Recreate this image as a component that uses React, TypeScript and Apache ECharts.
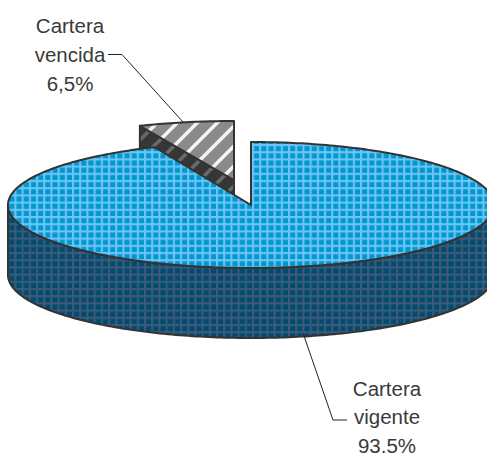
import React, { useEffect, useRef } from "react";
import * as echarts from "echarts";

const sliceNames = ["Cartera vencida", "Cartera vigente"];
const sliceValues = [6.5, 93.5];
const labelLinesVencida = ["Cartera", "vencida", "6,5%"];
const labelLinesVigente = ["Cartera", "vigente", "93.5%"];

const W = 487;
const H = 455;
const CX = 251;
const CY = 205;
const RX = 243;
const RY = 63;
const DEPTH = 70;
const EXPLODE = { cx: 234, cy: 180, rx: 237, ry: 59 };
const OUTLINE = "#333333";

function gridPattern(base: string, line: string) {
  const P = 7.2;
  const S = 6;
  const c = document.createElement("canvas");
  c.width = c.height = Math.round(P * S);
  const g = c.getContext("2d")!;
  g.fillStyle = base;
  g.fillRect(0, 0, c.width, c.height);
  g.fillStyle = line;
  g.fillRect(0, 0, 13, c.height);
  g.fillRect(0, 0, c.width, 13);
  return { image: c, repeat: "repeat", imageWidth: P, imageHeight: P, x: 0, y: 0 };
}

function hatchPattern(base: string, stripe: string) {
  const P = 20;
  const S = 4;
  const size = P * S;
  const c = document.createElement("canvas");
  c.width = c.height = size;
  const g = c.getContext("2d")!;
  g.fillStyle = base;
  g.fillRect(0, 0, size, size);
  g.strokeStyle = stripe;
  g.lineWidth = 14;
  for (const o of [-size, 0, size]) {
    g.beginPath();
    g.moveTo(o - 10, size + 10);
    g.lineTo(o + size + 10, -10);
    g.stroke();
  }
  return { image: c, repeat: "repeat", imageWidth: P, imageHeight: P, x: 0, y: 0 };
}

function arc(cx: number, cy: number, rx: number, ry: number, from: number, to: number) {
  const pts: number[][] = [];
  const n = Math.max(2, Math.ceil(Math.abs(to - from)));
  for (let i = 0; i <= n; i++) {
    const t = ((from + ((to - from) * i) / n) * Math.PI) / 180;
    pts.push([cx + rx * Math.sin(t), cy - ry * Math.cos(t)]);
  }
  return pts;
}

export default function App() {
  const ref = useRef<HTMLDivElement>(null);
  useEffect(() => {
    document.body.style.margin = "0";
    const chart = echarts.init(ref.current!, undefined, { renderer: "svg" });
    const total = sliceValues[0] + sliceValues[1];
    const topFill = gridPattern("#0099CC", "#70C4F8");
    const wallFill = gridPattern("#004C70", "#3F5A78");
    const hatchTop = hatchPattern("#8A8A8A", "#F4F4F4");
    const hatchWall = hatchPattern("#363636", "#6A6A6A");

    const renderItem = (params: any, api: any) => {
      const share = (api.value(0) / total) * 360;
      const line = { stroke: OUTLINE, lineWidth: 2, lineJoin: "round" };
      if (params.dataIndex === 0) {
        const { cx, cy, rx, ry } = EXPLODE;
        const a = arc(cx, cy, rx, ry, -share, 0);
        const wall = [[cx, cy], a[0], [a[0][0], a[0][1] + DEPTH], [cx, cy + DEPTH]];
        return {
          type: "group",
          children: [
            { type: "polygon", shape: { points: wall }, style: { fill: hatchWall, ...line } },
            { type: "polygon", shape: { points: [[cx, cy], ...a] }, style: { fill: hatchTop, ...line } },
          ],
        };
      }
      const top = arc(CX, CY, RX, RY, 0, share);
      const front = arc(CX, CY, RX, RY, 90, 270);
      const back = arc(CX, CY + DEPTH, RX, RY, 270, 90);
      return {
        type: "group",
        children: [
          { type: "polygon", shape: { points: [...front, ...back] }, style: { fill: wallFill, ...line } },
          { type: "polygon", shape: { points: [[CX, CY], ...top] }, style: { fill: topFill, ...line } },
        ],
      };
    };

    const textStyle = (text: string, x: number, y: number) => ({
      type: "text",
      x,
      y,
      z: 10,
      style: {
        text,
        fill: "#3a3a3a",
        font: '20.5px "Liberation Sans", Arial, sans-serif',
        textAlign: "center",
        textVerticalAlign: "middle",
      },
    });
    const LH = 28.5;

    chart.setOption({
      animation: false,
      backgroundColor: "#ffffff",
      series: [
        {
          type: "custom",
          coordinateSystem: "none",
          silent: true,
          clip: false,
          renderItem,
          data: sliceValues.map((value, i) => ({ name: sliceNames[i], value: [value] })),
        },
      ],
      graphic: [
        { type: "polyline", z: 9, shape: { points: [[108, 54.5], [122, 54.5], [183, 122]] }, style: { stroke: "#222", lineWidth: 1, fill: "none" } },
        { type: "polyline", z: 9, shape: { points: [[303, 333], [333, 420], [347, 420]] }, style: { stroke: "#222", lineWidth: 1, fill: "none" } },
        ...labelLinesVencida.map((t, i) => textStyle(t, 70, 25 + i * 29.3)),
        ...labelLinesVigente.map((t, i) => textStyle(t, 387, 388 + i * LH)),
      ],
    });
    return () => chart.dispose();
  }, []);
  return <div ref={ref} style={{ position: "absolute", left: 0, top: 0, width: W, height: H }} />;
}
